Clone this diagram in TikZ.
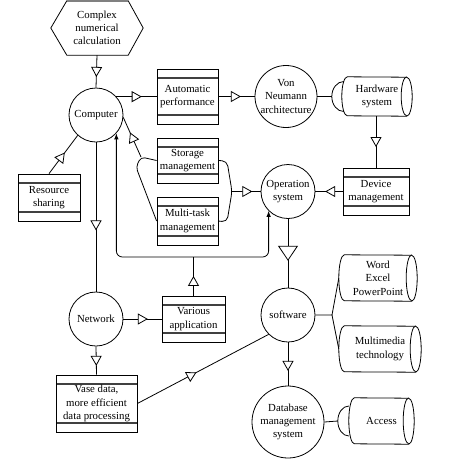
\documentclass[tikz,border=0pt]{standalone}
\usepackage{fontspec}
\setmainfont{Liberation Serif}
\usetikzlibrary{arrows.meta,decorations.markings,calc}
\newcommand\cylout[2]{%
  \draw[ln] ([xshift=5.5pt]#1.north west) arc[start angle=90,end angle=270,x radius=5.5pt,y radius=#2]
    -- ([xshift=-5.5pt]#1.south east) arc[start angle=-90,end angle=90,x radius=5.5pt,y radius=#2] -- cycle;
  \draw[ln] ([xshift=-5.5pt]#1.north east) arc[start angle=90,end angle=270,x radius=5.5pt,y radius=#2];}
\tikzset{
  every node/.style={font=\fontsize{10.8}{13.3}\selectfont, align=center, inner sep=0pt},
  ln/.style={line width=0.8pt},
  circ/.style={draw, circle, line width=0.8pt},
  cyl/.style={draw=none, rectangle},
  hexn/.style={draw=none, rectangle},
  sbox/.style={draw, rectangle, line width=0.8pt,
    path picture={
      \draw[line width=1.3pt, black!75] ([yshift=-9pt]path picture bounding box.north west) -- ([yshift=-9pt]path picture bounding box.north east);
      \draw[line width=1.3pt, black!75] ([yshift=9pt]path picture bounding box.south west) -- ([yshift=9pt]path picture bounding box.south east);}},
  oarr/.style={postaction={decorate, decoration={markings, mark=at position #1 with {\arrow{Triangle[length=10pt,width=11pt,fill=white]}}}}},
  oarrb/.style={postaction={decorate, decoration={markings, mark=at position #1 with {\arrow{Triangle[length=15pt,width=20pt,fill=white]}}}}},
  farr/.style={{Latex[length=6pt,width=4.5pt]}-{Latex[length=6pt,width=4.5pt]}}
}
\begin{document}
\begin{tikzpicture}[x=1pt,y=-1pt]
\useasboundingbox (0,0) rectangle (459,459);
% nodes
\node[hexn, minimum width=92pt, minimum height=54pt] (hex) at (97,28) {Complex\\numerical\\calculation};
\node[circ, minimum size=54pt] (comp) at (96,115) {Computer};
\node[sbox, minimum width=61pt, minimum height=55pt] (auto) at (187.5,96.5) {Automatic\\performance};
\node[circ, minimum size=62pt] (vn) at (286,96.5) {Von\\Neumann\\architecture};
\node[cyl, minimum width=70pt, minimum height=39pt] (hw) at (377,96.5) {Hardware\\system};
\node[sbox, minimum width=66pt, minimum height=47pt] (dev) at (376,191.5) {Device\\management};
\node[circ, minimum size=54pt] (os) at (288,191.5) {Operation\\system};
\node[sbox, minimum width=61pt, minimum height=45pt] (st) at (187.5,160.5) {Storage\\management};
\node[sbox, minimum width=61pt, minimum height=48pt] (mt) at (187.5,221) {Multi-task\\management};
\node[sbox, minimum width=62pt, minimum height=47pt] (rs) at (49,197.5) {Resource\\sharing};
\node[circ, minimum size=54pt] (net) at (96,319) {Network};
\node[sbox, minimum width=63pt, minimum height=46pt] (va) at (193.5,319) {Various\\application};
\node[sbox, minimum width=81pt, minimum height=57pt] (vd) at (96.5,403.5) {Vase data,\\more efficient\\data processing};
\node[circ, minimum size=54pt] (sw) at (288,315) {software};
\node[cyl, minimum width=78pt, minimum height=46pt] (wd) at (378,278) {Word\\Excel\\PowerPoint};
\node[cyl, minimum width=82pt, minimum height=46pt] (mm) at (380,349) {Multimedia\\technology};
\node[circ, minimum size=72pt] (db) at (288,422) {Database\\management\\system};
\node[cyl, minimum width=65pt, minimum height=46pt] (acc) at (381.5,421) {Access};
% hexagon outline
\draw[ln] (hex.west) -- ([xshift=16pt]hex.north west) -- ([xshift=-15pt]hex.north east) -- (hex.east)
  -- ([xshift=-15pt]hex.south east) -- ([xshift=16pt]hex.south west) -- cycle;
\draw[gray, line width=1.6pt] ([xshift=16pt]hex.north west) -- ([xshift=-15pt]hex.north east);
% cylinders
\cylout{hw}{19.5pt}
\cylout{wd}{23pt}
\cylout{mm}{23pt}
\cylout{acc}{23pt}
% sockets
\draw[ln] ([xshift=2pt,yshift=15pt]hw.west) arc[start angle=90,end angle=270,x radius=12pt,y radius=15pt];
\draw[ln] ([yshift=15pt]acc.west) arc[start angle=90,end angle=270,x radius=11pt,y radius=15pt];
% junctions
\coordinate (J1) at (141,157);
\coordinate (J2) at (232,191.5);
\coordinate (J3) at (332,315);
\coordinate (ly) at (0,257);
% connectors
\draw[ln, oarr=0.67] (hex.south) -- (comp.north);
\draw[ln, oarr=0.63] (comp.42) -- (comp.42 -| auto.west);
\draw[ln, oarr=0.62] (auto.east) -- (vn.west);
\draw[ln] (vn.east) -- ([xshift=-10pt]hw.west);
\draw[ln, oarr=0.6] (dev.north |- hw.south) -- (dev.north);
\draw[ln, oarr=0.64] (dev.west) -- (os.east);
\draw[ln, rounded corners=4pt] (st.west) -- (J1) -- (136,167) -- (mt.west);
\draw[ln, oarr=0.62] (J1) -- (comp.-5);
\draw[ln, rounded corners=5pt] (st.east) -- (227,161) -- (J2) -- (227,222) -- (mt.east);
\draw[ln, oarr=0.71] (J2) -- (os.west);
\draw[ln, oarr=0.55] (rs.north) -- (comp.-132);
\draw[ln, oarr=0.59] (comp.south) -- (net.north);
\draw[ln, farr, rounded corners=6pt] (comp.-42) -- (comp.-42 |- ly) -- (os.-135 |- ly) -- (os.-135);
\draw[ln, oarr=0.51] (va.north) -- (va.north |- ly);
\draw[ln, oarr=0.64] (net.east) -- (va.west);
\draw[ln, oarr=0.69] (net.south) -- (vd.north);
\draw[ln, oarr=0.45] (vd.east) -- (sw.-135);
\draw[ln, oarrb=0.61] (os.south) -- (sw.north);
\draw[ln] (sw.east) -- (J3) -- (wd.west);
\draw[ln] (J3) -- (mm.west);
\draw[ln, oarr=0.66] (sw.south) -- (db.north);
\draw[ln] (db.east) -- ([xshift=-11pt]acc.west);
\end{tikzpicture}
\end{document}
